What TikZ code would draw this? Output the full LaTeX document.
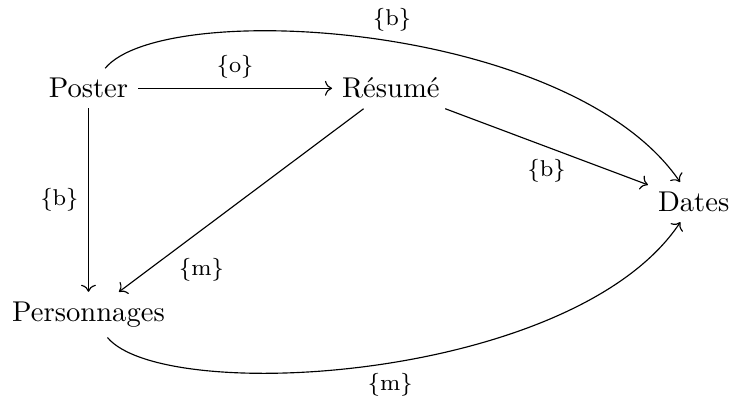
\documentclass[tikz,border=0pt]{standalone}
\usepackage{tikz}
\usetikzlibrary{arrows.meta, positioning}
\tikzset{
  wnode/.style={inner sep=3.333pt, font=\normalsize},
  elbl/.style ={font=\footnotesize, inner sep=3.333pt},
  earr/.style ={->, line width=0.4pt, color=black},
}
\begin{document}
\begin{tikzpicture}
  \useasboundingbox (0,0) rectangle (8.968,-4.951);
  \node[wnode] (poster) at (1.087,-1.085) {Poster};
  \node[wnode] (resume) at (4.802,-1.085) {Résumé};
  \node[wnode] (dates) at (8.522,-2.482) {Dates};
  \node[wnode] (perso) at (1.087,-3.866) {Personnages};
  \draw[earr] (poster) -- node[elbl, above]{\{o\}} (resume);
  \draw[earr] (poster) -- node[elbl, left]{\{b\}} (perso);
  \draw[earr] (resume) -- node[elbl, pos=0.76, below right, xshift=-3pt]{\{m\}} (perso);
  \draw[earr] (resume) -- node[elbl, below=1pt]{\{b\}} (dates);
  \draw[earr] (poster) .. controls +(0.926,1.114) and +(-1.51,2.211) .. node[elbl, pos=0.525, above]{\{b\}} (dates);
  \draw[earr] (perso) .. controls +(0.929,-1.117) and +(-1.464,-2.204) .. node[elbl, pos=0.52, below]{\{m\}} (dates);
\end{tikzpicture}
\end{document}
